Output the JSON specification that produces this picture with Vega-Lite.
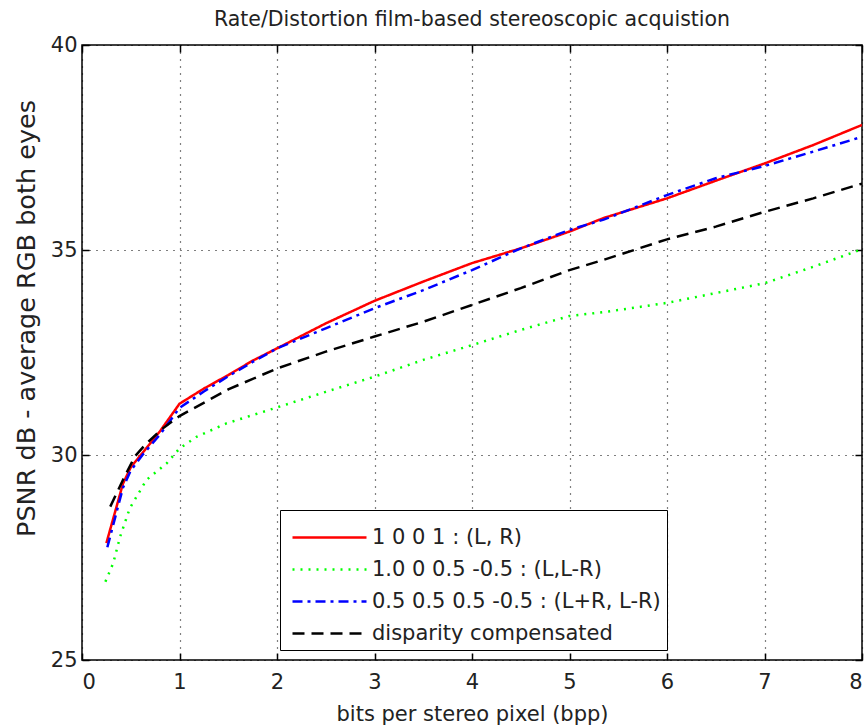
{
  "$schema": "https://vega.github.io/schema/vega-lite/v6.json",
  "width": 780,
  "height": 615,
  "autosize": "none",
  "padding": {"left": 82, "top": 45, "right": 6, "bottom": 68},
  "background": "white",
  "config": {
    "view": {"stroke": "black", "strokeWidth": 1.5},
    "font": "DejaVu Sans",
    "axis": {"labelFont": "DejaVu Sans", "titleFont": "DejaVu Sans", "labelFontSize": 21, "titleFontSize": 21, "titleFontWeight": "normal", "labelColor": "#222", "titleColor": "#222", "domainColor": "black", "tickColor": "black", "tickWidth": 1.5, "gridColor": "black", "gridDash": [1, 6], "gridOpacity": 1, "gridWidth": 1.2}
  },
  "title": {"text": "Rate/Distortion film-based stereoscopic acquistion", "fontSize": 20.5, "font": "DejaVu Sans", "fontWeight": "normal", "color": "#222", "offset": 4},
  "data": {"values": [
    {"s": "1 0 0 1 : (L, R)", "x": 0.25, "y": 27.85},
    {"s": "1 0 0 1 : (L, R)", "x": 0.42, "y": 29.3},
    {"s": "1 0 0 1 : (L, R)", "x": 0.5, "y": 29.7},
    {"s": "1 0 0 1 : (L, R)", "x": 0.62, "y": 30.05},
    {"s": "1 0 0 1 : (L, R)", "x": 0.8, "y": 30.58},
    {"s": "1 0 0 1 : (L, R)", "x": 1.0, "y": 31.25},
    {"s": "1 0 0 1 : (L, R)", "x": 1.25, "y": 31.62},
    {"s": "1 0 0 1 : (L, R)", "x": 1.5, "y": 31.95},
    {"s": "1 0 0 1 : (L, R)", "x": 1.75, "y": 32.3},
    {"s": "1 0 0 1 : (L, R)", "x": 2.0, "y": 32.6},
    {"s": "1 0 0 1 : (L, R)", "x": 2.5, "y": 33.21},
    {"s": "1 0 0 1 : (L, R)", "x": 3.0, "y": 33.76},
    {"s": "1 0 0 1 : (L, R)", "x": 3.5, "y": 34.23},
    {"s": "1 0 0 1 : (L, R)", "x": 4.0, "y": 34.68},
    {"s": "1 0 0 1 : (L, R)", "x": 4.5, "y": 35.04},
    {"s": "1 0 0 1 : (L, R)", "x": 5.0, "y": 35.45},
    {"s": "1 0 0 1 : (L, R)", "x": 5.35, "y": 35.78},
    {"s": "1 0 0 1 : (L, R)", "x": 6.0, "y": 36.26},
    {"s": "1 0 0 1 : (L, R)", "x": 6.5, "y": 36.69},
    {"s": "1 0 0 1 : (L, R)", "x": 7.0, "y": 37.11},
    {"s": "1 0 0 1 : (L, R)", "x": 7.5, "y": 37.56},
    {"s": "1 0 0 1 : (L, R)", "x": 8.0, "y": 38.05},
    {"s": "1.0 0 0.5 -0.5 : (L,L-R)", "x": 0.24, "y": 26.91},
    {"s": "1.0 0 0.5 -0.5 : (L,L-R)", "x": 0.32, "y": 27.36},
    {"s": "1.0 0 0.5 -0.5 : (L,L-R)", "x": 0.39, "y": 28.0},
    {"s": "1.0 0 0.5 -0.5 : (L,L-R)", "x": 0.49, "y": 28.7},
    {"s": "1.0 0 0.5 -0.5 : (L,L-R)", "x": 0.66, "y": 29.39},
    {"s": "1.0 0 0.5 -0.5 : (L,L-R)", "x": 0.87, "y": 29.8},
    {"s": "1.0 0 0.5 -0.5 : (L,L-R)", "x": 1.0, "y": 30.16},
    {"s": "1.0 0 0.5 -0.5 : (L,L-R)", "x": 1.18, "y": 30.45},
    {"s": "1.0 0 0.5 -0.5 : (L,L-R)", "x": 1.48, "y": 30.77},
    {"s": "1.0 0 0.5 -0.5 : (L,L-R)", "x": 2.0, "y": 31.16},
    {"s": "1.0 0 0.5 -0.5 : (L,L-R)", "x": 2.5, "y": 31.54},
    {"s": "1.0 0 0.5 -0.5 : (L,L-R)", "x": 3.0, "y": 31.91},
    {"s": "1.0 0 0.5 -0.5 : (L,L-R)", "x": 3.5, "y": 32.32},
    {"s": "1.0 0 0.5 -0.5 : (L,L-R)", "x": 4.0, "y": 32.68},
    {"s": "1.0 0 0.5 -0.5 : (L,L-R)", "x": 4.5, "y": 33.05},
    {"s": "1.0 0 0.5 -0.5 : (L,L-R)", "x": 5.0, "y": 33.39},
    {"s": "1.0 0 0.5 -0.5 : (L,L-R)", "x": 5.4, "y": 33.5},
    {"s": "1.0 0 0.5 -0.5 : (L,L-R)", "x": 6.0, "y": 33.71},
    {"s": "1.0 0 0.5 -0.5 : (L,L-R)", "x": 6.5, "y": 33.95},
    {"s": "1.0 0 0.5 -0.5 : (L,L-R)", "x": 7.0, "y": 34.19},
    {"s": "1.0 0 0.5 -0.5 : (L,L-R)", "x": 7.5, "y": 34.59},
    {"s": "1.0 0 0.5 -0.5 : (L,L-R)", "x": 8.0, "y": 35.02},
    {"s": "0.5 0.5 0.5 -0.5 : (L+R, L-R)", "x": 0.26, "y": 27.75},
    {"s": "0.5 0.5 0.5 -0.5 : (L+R, L-R)", "x": 0.42, "y": 29.2},
    {"s": "0.5 0.5 0.5 -0.5 : (L+R, L-R)", "x": 0.5, "y": 29.62},
    {"s": "0.5 0.5 0.5 -0.5 : (L+R, L-R)", "x": 0.62, "y": 30.0},
    {"s": "0.5 0.5 0.5 -0.5 : (L+R, L-R)", "x": 0.8, "y": 30.5},
    {"s": "0.5 0.5 0.5 -0.5 : (L+R, L-R)", "x": 1.0, "y": 31.15},
    {"s": "0.5 0.5 0.5 -0.5 : (L+R, L-R)", "x": 1.25, "y": 31.55},
    {"s": "0.5 0.5 0.5 -0.5 : (L+R, L-R)", "x": 1.5, "y": 31.92},
    {"s": "0.5 0.5 0.5 -0.5 : (L+R, L-R)", "x": 1.75, "y": 32.27},
    {"s": "0.5 0.5 0.5 -0.5 : (L+R, L-R)", "x": 2.0, "y": 32.6},
    {"s": "0.5 0.5 0.5 -0.5 : (L+R, L-R)", "x": 2.5, "y": 33.09},
    {"s": "0.5 0.5 0.5 -0.5 : (L+R, L-R)", "x": 3.0, "y": 33.58},
    {"s": "0.5 0.5 0.5 -0.5 : (L+R, L-R)", "x": 3.5, "y": 34.02},
    {"s": "0.5 0.5 0.5 -0.5 : (L+R, L-R)", "x": 4.0, "y": 34.51},
    {"s": "0.5 0.5 0.5 -0.5 : (L+R, L-R)", "x": 4.5, "y": 35.04},
    {"s": "0.5 0.5 0.5 -0.5 : (L+R, L-R)", "x": 5.0, "y": 35.49},
    {"s": "0.5 0.5 0.5 -0.5 : (L+R, L-R)", "x": 5.35, "y": 35.74},
    {"s": "0.5 0.5 0.5 -0.5 : (L+R, L-R)", "x": 6.0, "y": 36.34},
    {"s": "0.5 0.5 0.5 -0.5 : (L+R, L-R)", "x": 6.5, "y": 36.75},
    {"s": "0.5 0.5 0.5 -0.5 : (L+R, L-R)", "x": 7.0, "y": 37.05},
    {"s": "0.5 0.5 0.5 -0.5 : (L+R, L-R)", "x": 7.5, "y": 37.4},
    {"s": "0.5 0.5 0.5 -0.5 : (L+R, L-R)", "x": 8.0, "y": 37.76},
    {"s": "disparity compensated", "x": 0.29, "y": 28.74},
    {"s": "disparity compensated", "x": 0.42, "y": 29.39},
    {"s": "disparity compensated", "x": 0.54, "y": 29.96},
    {"s": "disparity compensated", "x": 0.66, "y": 30.28},
    {"s": "disparity compensated", "x": 0.83, "y": 30.65},
    {"s": "disparity compensated", "x": 1.0, "y": 30.95},
    {"s": "disparity compensated", "x": 1.5, "y": 31.6},
    {"s": "disparity compensated", "x": 2.0, "y": 32.11},
    {"s": "disparity compensated", "x": 2.5, "y": 32.52},
    {"s": "disparity compensated", "x": 3.0, "y": 32.89},
    {"s": "disparity compensated", "x": 3.5, "y": 33.25},
    {"s": "disparity compensated", "x": 4.0, "y": 33.66},
    {"s": "disparity compensated", "x": 4.5, "y": 34.07},
    {"s": "disparity compensated", "x": 5.0, "y": 34.51},
    {"s": "disparity compensated", "x": 5.35, "y": 34.76},
    {"s": "disparity compensated", "x": 6.0, "y": 35.26},
    {"s": "disparity compensated", "x": 6.5, "y": 35.57},
    {"s": "disparity compensated", "x": 7.0, "y": 35.93},
    {"s": "disparity compensated", "x": 7.5, "y": 36.26},
    {"s": "disparity compensated", "x": 8.0, "y": 36.62}
  ]},
  "layer": [
    {
      "mark": {"type": "line", "strokeWidth": 2.5, "clip": true},
      "encoding": {
        "x": {"field": "x", "type": "quantitative", "scale": {"domain": [0, 8], "nice": false, "zero": false},
          "axis": {"orient": "bottom", "title": "bits per stereo pixel (bpp)", "values": [0,1,2,3,4,5,6,7,8], "format": "d", "tickSize": -7, "labelPadding": 18, "titlePadding": 11, "grid": true, "domain": false}},
        "y": {"field": "y", "type": "quantitative", "scale": {"domain": [25, 40], "nice": false, "zero": false},
          "axis": {"orient": "left", "title": "PSNR dB - average RGB both eyes", "titleFontSize": 25.5, "titleY": 273, "values": [25,30,35,40], "format": "d", "tickSize": -7, "labelPadding": 12, "titlePadding": 11, "grid": true, "domain": false}},
        "color": {"field": "s", "type": "nominal",
          "scale": {"domain": ["1 0 0 1 : (L, R)", "1.0 0 0.5 -0.5 : (L,L-R)", "0.5 0.5 0.5 -0.5 : (L+R, L-R)", "disparity compensated"], "range": ["#ff0000", "#00ff00", "#0000ff", "#000000"]},
          "legend": {"title": null, "orient": "none", "legendX": 198, "legendY": 465, "symbolType": "M-1.85,0H1.85", "symbolSize": 1600, "symbolOffset": 22, "symbolStrokeWidth": 2.5, "labelFont": "DejaVu Sans", "labelFontSize": 21, "labelColor": "#222", "labelLimit": 400, "rowPadding": 0, "fillColor": "white", "strokeColor": "black", "padding": 6, "labelOffset": 21}},
        "strokeDash": {"field": "s", "type": "nominal",
          "scale": {"domain": ["1 0 0 1 : (L, R)", "1.0 0 0.5 -0.5 : (L,L-R)", "0.5 0.5 0.5 -0.5 : (L+R, L-R)", "disparity compensated"], "range": [[1, 0], [2, 6], [10, 5, 3, 5], [12, 7]]},
          "legend": {"title": null, "orient": "none", "legendX": 198, "legendY": 465, "symbolType": "M-1.85,0H1.85", "symbolSize": 1600, "symbolOffset": 22, "symbolStrokeWidth": 2.5, "labelFont": "DejaVu Sans", "labelFontSize": 21, "labelColor": "#222", "labelLimit": 400, "rowPadding": 0, "fillColor": "white", "strokeColor": "black", "padding": 6, "labelOffset": 21}}
      }
    },
    {
      "mark": {"type": "line", "opacity": 0},
      "encoding": {
        "x": {"field": "x", "type": "quantitative", "axis": {"orient": "top", "title": null, "labels": false, "values": [0,1,2,3,4,5,6,7,8], "tickSize": -7, "grid": false, "domain": false}},
        "y": {"field": "y", "type": "quantitative", "axis": {"orient": "right", "title": null, "labels": false, "values": [25,30,35,40], "tickSize": -7, "grid": false, "domain": false}},
        "detail": {"field": "s"}
      }
    }
  ],
  "resolve": {"axis": {"x": "independent", "y": "independent"}}
}
